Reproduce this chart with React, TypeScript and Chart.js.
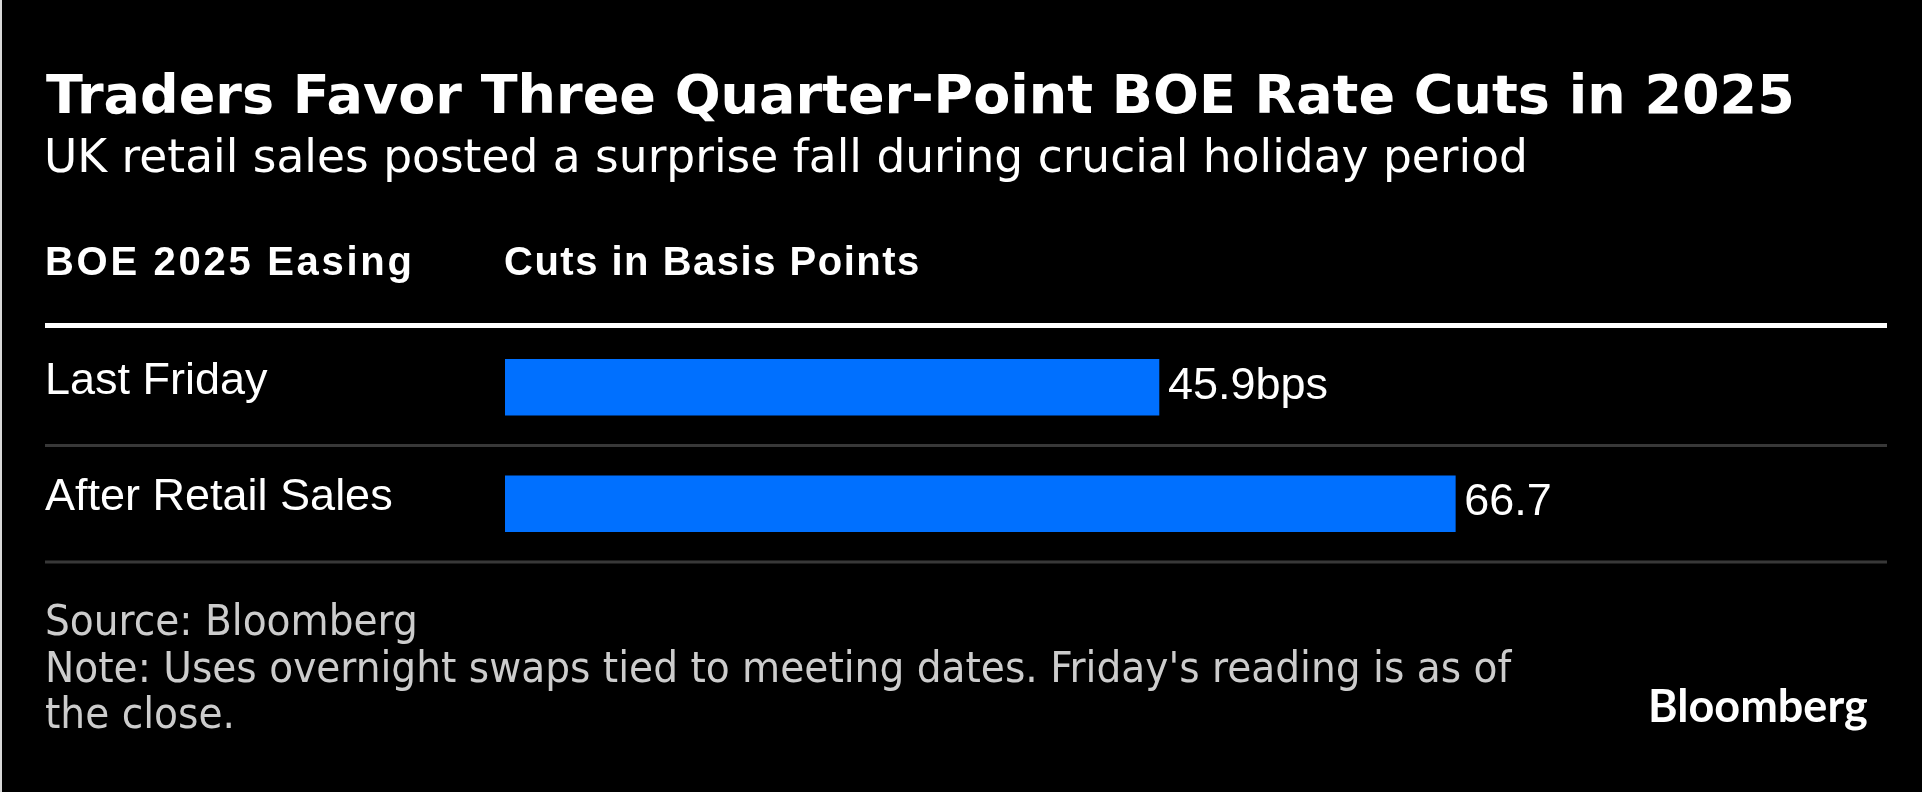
import React, { useEffect, useRef } from "react";
import { Chart, registerables } from "chart.js";

Chart.register(...registerables);

const TITLE = "Traders Favor Three Quarter-Point BOE Rate Cuts in 2025";
const SUBTITLE = "UK retail sales posted a surprise fall during crucial holiday period";
const HEADER_LABEL = "BOE 2025 Easing";
const HEADER_VALUE = "Cuts in Basis Points";
const categories = ["Last Friday", "After Retail Sales"];
const cutsBps = [45.9, 66.7];
const valueSuffixes = ["bps", ""];
const SOURCE = "Source: Bloomberg";
const NOTE_LINES = [
  "Note: Uses overnight swaps tied to meeting dates. Friday's reading is as of",
  "the close.",
];
const LOGO = "Bloomberg";

const W = 1922;
const H = 792;

const rowLinesPlugin = {
  id: "rowLines",
  beforeDatasetsDraw(chart: any) {
    const ctx = chart.ctx;
    const y = chart.scales.y;
    const n = categories.length;
    const step = (y.bottom - y.top) / n;
    const left = y.left;
    const right = chart.chartArea.right;
    ctx.save();
    ctx.fillStyle = "#ffffff";
    ctx.fillRect(left, y.top - 6, right - left, 5);
    ctx.fillStyle = "#383838";
    for (let k = 1; k <= n; k++) {
      ctx.fillRect(left, y.top + k * step - 1.5, right - left, 3);
    }
    ctx.restore();
  },
};

const valueLabelPlugin = {
  id: "valueLabels",
  afterDatasetsDraw(chart: any) {
    const ctx = chart.ctx;
    const meta = chart.getDatasetMeta(0);
    ctx.save();
    ctx.fillStyle = "#ffffff";
    ctx.font = "45px 'Liberation Sans', Arial, sans-serif";
    ctx.textAlign = "left";
    ctx.textBaseline = "middle";
    meta.data.forEach((bar: any, i: number) => {
      const v = cutsBps[i];
      ctx.fillText(v.toFixed(1) + valueSuffixes[i], bar.x + 9, bar.y - 1);
    });
    ctx.restore();
  },
};

export default function App() {
  const canvasRef = useRef<HTMLCanvasElement | null>(null);

  useEffect(() => {
    document.body.style.margin = "0";
    document.body.style.background = "#000";
    const canvas = canvasRef.current;
    if (!canvas) return;
    const chart = new Chart(canvas, {
      type: "bar",
      data: {
        labels: categories,
        datasets: [
          {
            data: cutsBps,
            backgroundColor: "#0070ff",
            borderWidth: 0,
            barThickness: 56,
          },
        ],
      },
      options: {
        indexAxis: "y",
        responsive: false,
        animation: false,
        layout: { padding: { left: 45, right: 35, top: 329, bottom: H - 562 } },
        plugins: { legend: { display: false }, tooltip: { enabled: false } },
        scales: {
          x: { display: false, min: 0, max: 97 },
          y: {
            grid: { display: false },
            border: { display: false },
            ticks: {
              color: "#ffffff",
              font: { family: "'Liberation Sans', Arial, sans-serif", size: 45 },
              crossAlign: "far",
              labelOffset: -6,
              padding: 0,
            },
            afterFit: (s: any) => {
              s.width = 505 - 45;
            },
          },
        },
      },
      plugins: [rowLinesPlugin, valueLabelPlugin],
    } as any);
    return () => chart.destroy();
  }, []);

  const base: React.CSSProperties = {
    position: "absolute",
    margin: 0,
    whiteSpace: "nowrap",
    color: "#fff",
  };

  return (
    <div style={{ position: "relative", width: W, height: H, background: "#000", overflow: "hidden" }}>
      <div style={{ position: "absolute", left: 0, top: 0, width: 2, height: H, background: "#d9d9d9" }} />
      <canvas ref={canvasRef} width={W} height={H} style={{ position: "absolute", left: 0, top: 0, width: W, height: H }} />
      <div style={{ ...base, left: 46, top: 68, fontFamily: "'DejaVu Sans'", fontWeight: 700, fontSize: 54, lineHeight: "54px" }}>{TITLE}</div>
      <div style={{ ...base, left: 44, top: 134, fontFamily: "'DejaVu Sans'", fontSize: 45.5, lineHeight: "45.5px" }}>{SUBTITLE}</div>
      <div style={{ ...base, left: 45, top: 241, fontFamily: "'Liberation Sans', Arial", fontWeight: 700, fontSize: 40, lineHeight: "40px", letterSpacing: 2.7 }}>{HEADER_LABEL}</div>
      <div style={{ ...base, left: 504, top: 241, fontFamily: "'Liberation Sans', Arial", fontWeight: 700, fontSize: 40, lineHeight: "40px", letterSpacing: 1.5 }}>{HEADER_VALUE}</div>
      <div style={{ ...base, left: 45, top: 597, fontFamily: "'DejaVu Sans'", fontSize: 43.5, lineHeight: "46.5px", fontStretch: "condensed", color: "#cccccc" }}>
        <div>{SOURCE}</div>
        <div>{NOTE_LINES[0]}</div>
        <div>{NOTE_LINES[1]}</div>
      </div>
      <div style={{ ...base, left: 1648, top: 683, fontFamily: "Lato", fontWeight: 700, fontSize: 45, lineHeight: "45px" }}>{LOGO}</div>
    </div>
  );
}
